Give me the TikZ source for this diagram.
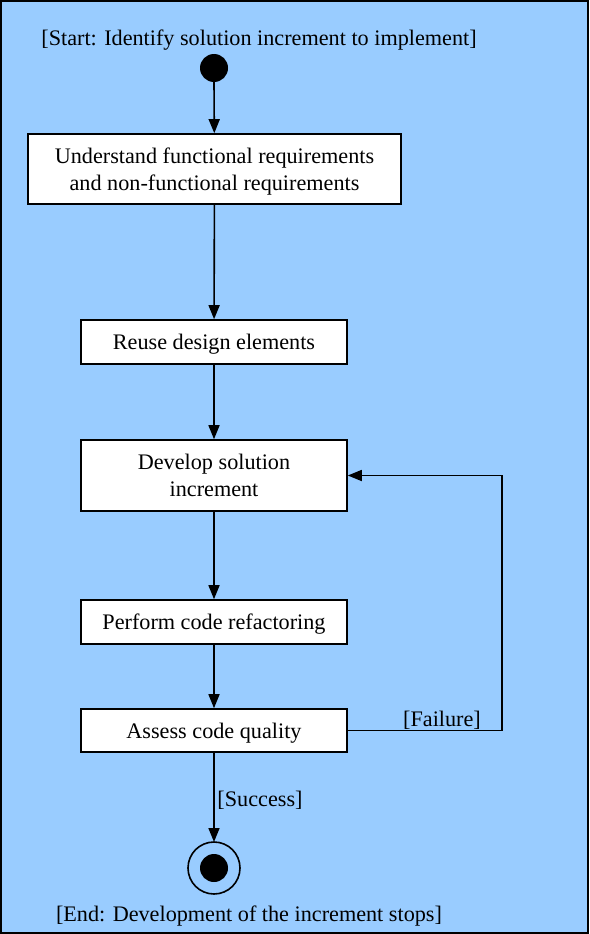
\documentclass[tikz,border=0pt]{standalone}
\usepackage{fontspec}
\setmainfont{Liberation Serif}
\usetikzlibrary{arrows.meta}
\definecolor{bgblue}{RGB}{153,204,255}
\tikzset{
  act/.style={draw, fill=white, line width=1.6pt, align=center, minimum width=266pt, minimum height=44pt, inner sep=0pt, text depth=0pt},
  flow/.style={-{Triangle[length=14pt, width=11pt]}, line width=1.6pt},
  guard/.style={font=\fontsize{22.2}{27}\selectfont, text depth=0pt}
}
\begin{document}
\begin{tikzpicture}[x=1pt, y=-1pt, font=\fontsize{22.2}{27}\selectfont]
            \draw[fill=bgblue, line width=2pt] (1, 1) rectangle (588, 933);
            \useasboundingbox (0, 0) rectangle (589, 934);

            \node[guard] (startlbl) at (259, 38) {[Start: Identify solution increment to implement]};
            \fill (214, 68) circle[radius=14pt];
            \coordinate (start) at (214, 82);

            \node[act, minimum width=373pt, minimum height=70pt] (understand) at (214.5, 169) {Understand functional requirements\\and non-functional requirements};
            \node[act] (reuse) at (214, 342) {Reuse design elements};
            \node[act, minimum height=71pt] (develop) at (214, 475.5) {Develop solution\\increment};
            \node[act] (refactor) at (214, 622) {Perform code refactoring};
            \node[act, minimum height=43pt] (assess) at (214, 730.5) {Assess code quality};

            \draw[line width=1.6pt] (214, 868) circle[radius=26pt];
            \fill (214, 868) circle[radius=14pt];
            \coordinate (stop) at (214, 842);
            \node[guard] (endlbl) at (249, 914) {[End: Development of the increment stops]};

            \draw[flow] (start) -- (understand);
            \draw[flow] (understand) -- (reuse);
            \draw[flow] (reuse) -- (develop);
            \draw[flow] (develop) -- (refactor);
            \draw[flow] (refactor) -- (assess);
            \draw[flow] (assess) -- (stop);
            \draw[flow] (assess.east) -- (502, 730.5) |- (develop.east);

            \node[guard] at (442, 719) {[Failure]};
            \node[guard] at (260, 799) {[Success]};
        \end{tikzpicture}
\end{document}
